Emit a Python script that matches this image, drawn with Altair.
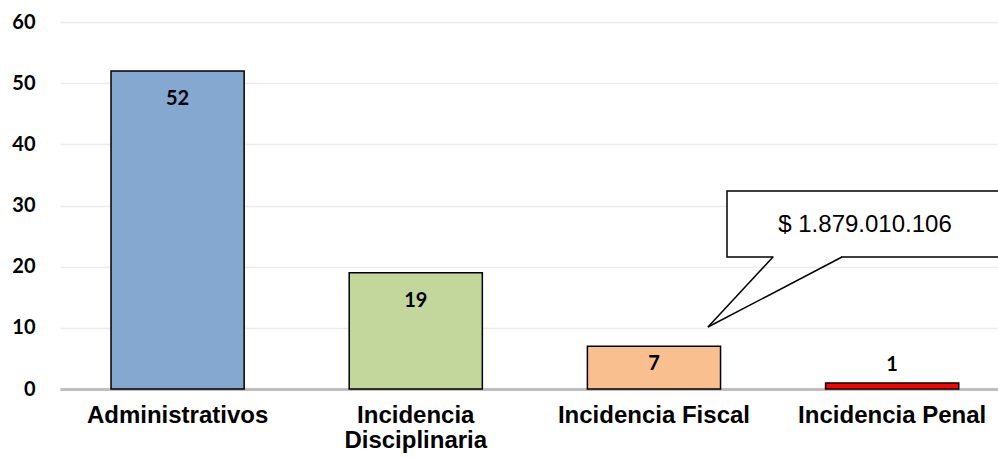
import altair as alt
import pandas as pd

categories = ["Administrativos", "Incidencia Disciplinaria", "Incidencia Fiscal", "Incidencia Penal"]
values = [52, 19, 7, 1]
colors = ["#84A8D0", "#C3D69B", "#F9BF8F", "#FF0000"]
callout_text = "$ 1.879.010.106"

df = pd.DataFrame({"categoria": categories, "valor": values, "color": colors})

x_enc = alt.X(
    "categoria:N",
    sort=categories,
    scale=alt.Scale(paddingInner=0.441, paddingOuter=0.1895, align=0.565),
    axis=alt.Axis(
        title=None,
        labelAngle=0,
        labelFont="Liberation Sans",
        labelFontWeight="bold",
        labelFontSize=24,
        labelColor="#000000",
        labelLimit=400,
        labelPadding=14,
        labelLineHeight=25,
        labelBaseline="top",
        labelExpr="datum.label == 'Incidencia Disciplinaria' ? ['Incidencia', 'Disciplinaria'] : datum.label",
        ticks=False,
        domain=True,
        domainColor="#BFBFBF",
        domainWidth=3,
        grid=False,
    ),
)
y_enc = alt.Y(
    "valor:Q",
    scale=alt.Scale(domain=[0, 60], nice=False),
    axis=alt.Axis(
        title=None,
        values=[0, 10, 20, 30, 40, 50, 60],
        labelFont="Lato",
        labelFontWeight="bold",
        labelFontSize=20,
        labelColor="#000000",
        labelPadding=25,
        ticks=False,
        domain=False,
        grid=True,
        gridColor="#EBEBEB",
        gridWidth=1.5,
    ),
)

base = alt.Chart(df)

bars = base.mark_bar(stroke="#000000", strokeWidth=1.5).encode(
    x=x_enc,
    y=y_enc,
    fill=alt.Fill("color:N", scale=None),
)

def label_layer(filt, dy):
    return base.transform_filter(filt).mark_text(
        font="Lato", fontWeight="bold", fontSize=20, color="#000000",
        baseline="middle", dy=dy,
    ).encode(
        x=alt.X("categoria:N", sort=categories),
        y=alt.Y("valor:Q"),
        text=alt.Text("valor:Q"),
    )

lab_big = label_layer("datum.valor >= 10", 28)
lab_mid = label_layer("datum.valor < 10 && datum.valor >= 5", 18)
lab_small = label_layer("datum.valor < 5", -18)

# callout annotation (pixel geometry relative to the plot area)
ann = pd.DataFrame({"t": [callout_text]})
box = alt.Chart(ann).mark_rect(
    fill="#FFFFFF", stroke="#000000", strokeWidth=1.5
).encode(
    x=alt.value(667), x2=alt.value(970),
    y=alt.value(169), y2=alt.value(235),
)
gap = alt.Chart(ann).mark_rule(
    stroke="#FFFFFF", strokeWidth=3
).encode(
    x=alt.value(713.5), x2=alt.value(781), y=alt.value(235), y2=alt.value(235),
)
edge1 = alt.Chart(ann).mark_rule(
    stroke="#000000", strokeWidth=1.5
).encode(
    x=alt.value(713), x2=alt.value(648), y=alt.value(235), y2=alt.value(305),
)
edge2 = alt.Chart(ann).mark_rule(
    stroke="#000000", strokeWidth=1.5
).encode(
    x=alt.value(782), x2=alt.value(648), y=alt.value(235), y2=alt.value(305),
)
ctext = alt.Chart(ann).mark_text(
    font="Liberation Sans", fontSize=24, color="#000000",
    align="center", baseline="middle",
).encode(
    x=alt.value(805), y=alt.value(203), text="t:N",
)

chart = alt.layer(
    bars, lab_big, lab_mid, lab_small, box, gap, edge1, edge2, ctext
).properties(
    width=938,
    height=367,
    autosize=alt.AutoSizeParams(type="none"),
    padding={"left": 60, "top": 22, "right": 0, "bottom": 68},
    background="#FFFFFF",
).configure_view(stroke=None)

chart.save("out.html", embed_options={"renderer": "svg", "actions": False})
